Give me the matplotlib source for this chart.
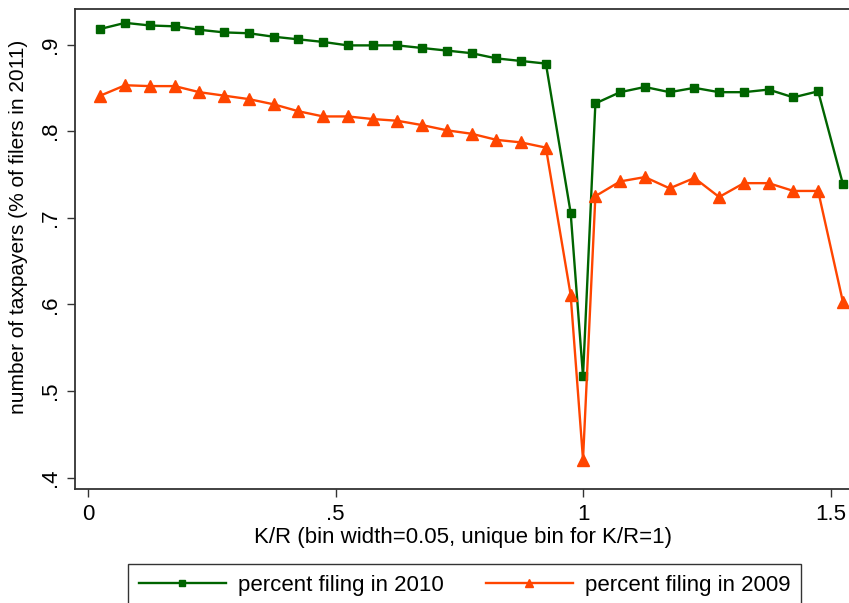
import matplotlib
matplotlib.use("Agg")
import matplotlib.pyplot as plt
import numpy as np

plt.rcParams['font.family'] = ['Liberation Sans', 'DejaVu Sans']

# bin centres: 0.025..0.975, unique bin at 1, 1.025..1.525
kr = [0.025, 0.075, 0.125, 0.175, 0.225, 0.275, 0.325, 0.375, 0.425, 0.475,
      0.525, 0.575, 0.625, 0.675, 0.725, 0.775, 0.825, 0.875, 0.925, 0.975,
      1.0,
      1.025, 1.075, 1.125, 1.175, 1.225, 1.275, 1.325, 1.375, 1.425, 1.475, 1.525]

filing_2010 = [0.918, 0.925, 0.922, 0.921, 0.917, 0.914, 0.913, 0.909, 0.906, 0.903,
               0.899, 0.899, 0.899, 0.896, 0.893, 0.890, 0.884, 0.881, 0.878, 0.706,
               0.517,
               0.832, 0.845, 0.851, 0.845, 0.850, 0.845, 0.845, 0.848, 0.839, 0.846, 0.739]

filing_2009 = [0.841, 0.853, 0.852, 0.852, 0.845, 0.841, 0.837, 0.831, 0.823, 0.817,
               0.817, 0.814, 0.812, 0.807, 0.801, 0.797, 0.790, 0.787, 0.781, 0.611,
               0.421,
               0.725, 0.742, 0.747, 0.734, 0.746, 0.724, 0.740, 0.740, 0.731, 0.731, 0.603]

xticks = [0, 0.5, 1, 1.5]
xticklabels = ['0', '.5', '1', '1.5']
yticks = [0.4, 0.5, 0.6, 0.7, 0.8, 0.9]
yticklabels = ['.4', '.5', '.6', '.7', '.8', '.9']

green = '#006400'
orange = '#FF4500'

W, H = 849, 603
fig = plt.figure(figsize=(W / 100, H / 100), dpi=100)
left, right, top, bottom = 75, 851, 9, 489
ax = fig.add_axes([left / W, 1 - bottom / H, (right - left) / W, (bottom - top) / H])

ax.plot(kr, filing_2010, color=green, lw=1.7, marker='s', ms=6, mec=green, mfc=green,
        label='percent filing in 2010')
ax.plot(kr, filing_2009, color=orange, lw=1.7, marker='^', ms=8.5, mec=orange, mfc=orange,
        label='percent filing in 2009')

ax.set_xlim(-0.0263, 1.5414)
ax.set_ylim(0.387, 0.941)
ax.set_xticks(xticks)
ax.set_xticklabels(xticklabels, fontsize=16)
ax.set_yticks(yticks)
ax.set_yticklabels(yticklabels, fontsize=16, rotation=90, va='center')
ax.tick_params(direction='out', length=6, width=1, color='#333333')
ax.tick_params(axis='x', pad=5)
ax.tick_params(axis='y', pad=4)
for s in ['left', 'bottom', 'top']:
    ax.spines[s].set_color('#333333')
    ax.spines[s].set_linewidth(1.3)
ax.spines['right'].set_visible(False)

ax.set_xlabel('K/R (bin width=0.05, unique bin for K/R=1)', fontsize=16, labelpad=1)
ax.set_ylabel('number of taxpayers (% of filers in 2011)', fontsize=15)
ax.yaxis.set_label_coords((28 - left) / (right - left), (bottom - 227) / (bottom - top))

leg = fig.legend(loc='upper left', bbox_to_anchor=(128 / W, 1 - 564 / H),
                 borderaxespad=0, ncol=2, fontsize=16, frameon=True, fancybox=False,
                 edgecolor='black', handlelength=3.9, handletextpad=0.55, borderpad=0.5,
                 columnspacing=1.9, markerscale=0.7)
leg.get_frame().set_linewidth(1.0)

fig.savefig('out.png', dpi=100)
